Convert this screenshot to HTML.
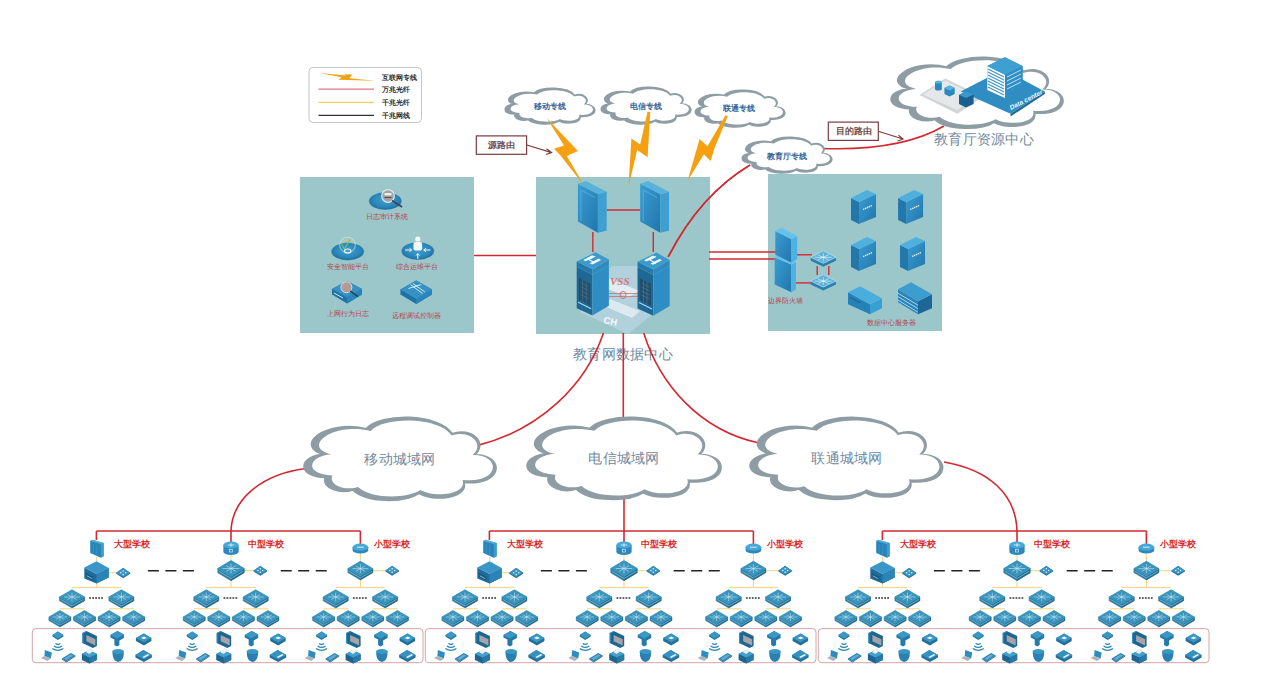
<!DOCTYPE html>
<html><head><meta charset="utf-8">
<style>
html,body{margin:0;padding:0;background:#fff;width:1262px;height:699px;overflow:hidden}
svg{display:block;font-family:"Liberation Sans",sans-serif}
.ct{fill:#6f88a0;font-size:14px;letter-spacing:.3px}
.lt{fill:#34649a;font-size:8.3px;font-weight:bold}
.rl{fill:#b9424d;font-size:6.5px}
.sch{fill:#d62828;font-size:8.6px;font-weight:bold}
.lg{fill:#2a2a2a;font-size:6.6px;font-weight:bold}
</style></head><body>
<svg width="1262" height="699" viewBox="0 0 1262 699">

<defs>
<linearGradient id="gTop" x1="0" y1="0" x2="0" y2="1"><stop offset="0" stop-color="#62bde6"/><stop offset="1" stop-color="#3d9fd0"/></linearGradient>
<linearGradient id="gFront" x1="0" y1="0" x2="1" y2="1"><stop offset="0" stop-color="#3a9dd2"/><stop offset="1" stop-color="#2176ac"/></linearGradient>
<g id="sw">
 <path d="M0,7 L11,13.5 L22,7 L22,10.5 L11,17 L0,10.5Z" fill="#2b78a0" stroke="#2b78a0" stroke-width=".5" stroke-linejoin="round"/>
 <path d="M11,13.5 L22,7 L22,10.5 L11,17Z" fill="#236a90"/>
 <path d="M0,7 L11,0.5 L22,7 L11,13.5Z" fill="#3a93bb" stroke="#3a93bb" stroke-width=".8" stroke-linejoin="round"/>
 <path d="M0.8,9.2 L11,15.2 L21.2,9.2" fill="none" stroke="#8ccbe6" stroke-width=".6"/>
 <g stroke="#c9e9f6" stroke-width=".55" fill="none" opacity=".95">
  <path d="M4,7 H18 M11,3 V11 M7,4.6 L15,9.4 M15,4.6 L7,9.4"/>
 </g>
</g>
<g id="dev">
 <path d="M0,5 L7,0 L14,5 L14,6 L7,10.5 L0,6Z" fill="#236f9c"/>
 <path d="M0,5 L7,0.5 L14,5 L7,9.2Z" fill="#3a94c0"/>
 <g fill="#dff3fb"><circle cx="4.5" cy="5" r=".8"/><circle cx="7" cy="3.2" r=".8"/><circle cx="9.5" cy="5" r=".8"/><circle cx="7" cy="6.8" r=".8"/></g>
</g>
<g id="fwS">
 <path d="M0,1.2 L2.4,0 L13.4,3.2 L13.4,16.5 L10.6,18.1 L0,13.4Z" fill="#2a84b8"/>
 <path d="M10.6,4.4 L13.4,3.2 L13.4,16.5 L10.6,18.1Z" fill="#3c9ccc"/>
 <path d="M0,1.2 L2.4,0 L13.4,3.2 L10.6,4.4Z" fill="#55afd8"/>
 <path d="M3,4.5 V14.2 M6.5,5.5 V15.7" stroke="#3d9ccf" stroke-width=".6"/>
</g>
<g id="chassis">
 <path d="M0,6.3 L12.2,12.7 L24.4,6.7 L24.4,16.2 L12.2,22.1 L0,17.3Z" fill="#1d6c9c"/>
 <path d="M12.2,12.7 L24.4,6.7 L24.4,16.2 L12.2,22.1Z" fill="#2a84b6"/>
 <path d="M0,6.3 L12.2,0 L24.4,6.7 L12.2,12.7Z" fill="#3996c6"/>
 <path d="M1.5,11.5 L9,15.5 V19.5 L1.5,15.5Z" fill="#16557d"/>
 <path d="M2.5,14.5 L8,17.4" stroke="#bfe2f3" stroke-width=".7"/>
</g>
<g id="rtM">
 <path d="M0,3.6 V10 A7.65,3.6 0 0 0 15.3,10 V3.6Z" fill="#2a88bd"/>
 <ellipse cx="7.65" cy="3.6" rx="7.65" ry="3.6" fill="#47a8d8"/>
 <path d="M4.5,3.6 H10.8 M7.65,1.8 V5.4" stroke="#e6f6fc" stroke-width=".8"/>
 <rect x="6.2" y="8" width="2.9" height="2.6" fill="none" stroke="#e6f6fc" stroke-width=".6"/>
</g>
<g id="rtS">
 <path d="M0,3.6 V6.4 A7.85,3.6 0 0 0 15.7,6.4 V3.6Z" fill="#2a88bd"/>
 <ellipse cx="7.85" cy="3.6" rx="7.85" ry="3.6" fill="#47a8d8"/>
 <path d="M4.5,3.6 H11.2" stroke="#e6f6fc" stroke-width=".9"/>
</g>
<g id="i_ap"><path d="M0,4 L5.5,0.5 L11,4 L11,5.5 L5.5,9 L0,5.5Z" fill="#2678a5"/><path d="M0,4 L5.5,0.5 L11,4 L5.5,7.5Z" fill="#3b98c4"/></g>
<g id="i_wave" fill="none" stroke="#2a82b4" stroke-width="1.3"><path d="M3,1.5 Q5.5,3.3 8,1.5"/><path d="M1.5,4 Q5.5,6.8 9.5,4"/><path d="M0,6.5 Q5.5,10.2 11,6.5"/></g>
<g id="i_mon"><path d="M0,2 L4,0 L14.5,5 V15 L10.5,17 L0,12Z" fill="#1d6690"/><path d="M4,4 L13,8.3 V14.5 L4,10.2Z" fill="#a7a3aa"/><path d="M0,2 L4,0 L5,0.5 L1,2.5 V12.5 L0,12Z" fill="#3592c4"/></g>
<g id="i_cam"><path d="M0,4 L7,0 L13.5,3.5 L13.5,7 L9,9.5 V14 L6.5,15.5 L4,14 V8.5 L0,6.5Z" fill="#2679a8"/><path d="M0,4 L7,0 L13.5,3.5 L6.5,7.5Z" fill="#3b98c4"/></g>
<g id="i_box"><path d="M0,5 L8,0.5 L15.5,5 V8 L8,12.5 L0,8Z" fill="#226f9c"/><path d="M0,5 L8,0.5 L15.5,5 L8,9.5Z" fill="#3a96c2"/><path d="M5,5 L8,3.5 L11,5 L8,6.2Z" fill="#e8f6fc"/></g>
<g id="i_lap"><path d="M4,0 L11,2.5 L10,8.5 L3.5,6Z" fill="#2f8bbd"/><path d="M0,8 L3.5,6 L10,8.5 L6.5,11Z" fill="#aab4bc"/></g>
<g id="i_ph"><path d="M0,5.5 L9,0 L13.5,2.5 L4.5,8.5Z" fill="#287fb0"/><path d="M0,5.5 L4.5,8.5 V9.5 L0,6.5Z" fill="#1f6e9f"/><path d="M4.5,8.5 L13.5,2.5 V3.5 L4.5,9.5Z" fill="#21668f"/><path d="M2,5.5 L9,1.2 L11.5,2.6 L4.5,7.2Z" fill="#5aaed8"/></g>
<g id="i_prn"><path d="M0,6 L7.5,2 L15,6 V12 L7.5,15.5 L0,12Z" fill="#1c6590"/><path d="M7.5,9.5 L15,6 V12 L7.5,15.5Z" fill="#2679a8"/><path d="M0,6 L7.5,2 L15,6 L7.5,9.5Z" fill="#45a0cc"/><path d="M4,4 L8.5,0 L12,2.5 L7.5,6Z" fill="#e8f2f6"/></g>
<g id="i_bkt"><path d="M0,2.5 Q0,12.5 5.75,13 Q11.5,12.5 11.5,2.5Z" fill="#2a80b0"/><ellipse cx="5.75" cy="2.5" rx="5.75" ry="2.5" fill="#3b98c4"/></g>
<g id="i_pd"><path d="M0,5 L8,0 L16.5,5 V7.5 L8.5,12 L0,7.5Z" fill="#226f9c"/><path d="M0,5 L8,0 L16.5,5 L8.5,9.5Z" fill="#3591c0"/><path d="M7,7 L12.5,4 L14,5 L8.5,8Z" fill="#e8f6fc"/></g>
</defs>
<rect x="300" y="177" width="174" height="156" fill="#9cc7ca"/>
<rect x="536" y="177" width="174" height="157" fill="#9cc7ca"/>
<rect x="768" y="174" width="174" height="157" fill="#9cc7ca"/>
<rect x="309" y="67.5" width="112.5" height="55" rx="4" fill="#fff" stroke="#c4c4c4" stroke-width="1"/>
<text class="ct" x="623" y="359" text-anchor="middle">教育网数据中心</text>
<path d="M474,255.5 H536" fill="none" stroke="#d42830" stroke-width="1.6"/>
<path d="M709,252 H776" fill="none" stroke="#d42830" stroke-width="1.6"/>
<path d="M709,259 H776" fill="none" stroke="#d42830" stroke-width="1.6"/>
<path d="M750,165 Q700,195 668,257" fill="none" stroke="#d42830" stroke-width="1.6"/>
<path d="M603.4,333 C586,385 540,430 477,445.6" fill="none" stroke="#d42830" stroke-width="1.6"/>
<path d="M623.3,333 V418" fill="none" stroke="#d42830" stroke-width="1.6"/>
<path d="M643.7,333 C660,385 700,430 758,442.7" fill="none" stroke="#d42830" stroke-width="1.6"/>
<path d="M821,148.5 C862,150 908,147 944,126" fill="none" stroke="#d42830" stroke-width="1.6"/>
<path d="M304,468.7 C260,475 232,500 231,531" fill="none" stroke="#d42830" stroke-width="1.6"/>
<path d="M624,498 V531" fill="none" stroke="#d42830" stroke-width="1.6"/>
<path d="M944,462 C990,470 1016,495 1017,531" fill="none" stroke="#d42830" stroke-width="1.6"/>
<path d="M96.4,531 H360.4" fill="none" stroke="#d42830" stroke-width="1.6"/>
<path d="M96.4,531 V540" fill="none" stroke="#d42830" stroke-width="1.6"/>
<path d="M231.0,531 V542" fill="none" stroke="#d42830" stroke-width="1.6"/>
<path d="M360.4,531 V544" fill="none" stroke="#d42830" stroke-width="1.6"/>
<path d="M489.4,531 H753.4" fill="none" stroke="#d42830" stroke-width="1.6"/>
<path d="M489.4,531 V540" fill="none" stroke="#d42830" stroke-width="1.6"/>
<path d="M624.0,531 V542" fill="none" stroke="#d42830" stroke-width="1.6"/>
<path d="M753.4,531 V544" fill="none" stroke="#d42830" stroke-width="1.6"/>
<path d="M882.4,531 H1146.4" fill="none" stroke="#d42830" stroke-width="1.6"/>
<path d="M882.4,531 V540" fill="none" stroke="#d42830" stroke-width="1.6"/>
<path d="M1017.0,531 V542" fill="none" stroke="#d42830" stroke-width="1.6"/>
<path d="M1146.4,531 V544" fill="none" stroke="#d42830" stroke-width="1.6"/>
<path d="M514.7,104.2 C499.6,100.9 514.9,88.9 534.1,93.1 C541.0,86.3 568.0,86.3 574.4,95.3 C583.3,92.3 591.4,99.1 584.9,104.5 C599.0,104.3 599.0,118.0 579.9,116.3 C582.4,123.1 565.8,124.9 558.9,121.0 C552.2,125.3 534.2,125.3 527.9,119.6 C522.1,121.4 513.1,118.9 515.1,114.1 C501.4,113.7 502.3,105.1 514.7,104.2Z" fill="#8e9da4" stroke="#8e9da4" stroke-width="1.37"/>
<path d="M519.4,104.2 C505.5,101.3 519.5,90.8 537.1,94.5 C543.5,88.5 568.2,88.5 574.1,96.5 C582.2,93.8 589.7,99.8 583.7,104.5 C596.7,104.3 596.7,116.3 579.1,114.8 C581.4,120.8 566.1,122.3 559.9,119.0 C553.8,122.7 537.3,122.7 531.5,117.7 C526.1,119.3 517.9,117.0 519.7,112.9 C507.2,112.5 508.0,105.0 519.4,104.2Z" fill="#fff"/>
<path d="M610.7,103.6 C595.6,100.2 610.9,87.9 630.1,92.3 C637.0,85.2 664.0,85.2 670.4,94.5 C679.3,91.4 687.4,98.5 680.9,104.0 C695.0,103.7 695.0,117.8 675.9,116.1 C678.4,123.1 661.8,124.9 654.9,121.0 C648.2,125.3 630.2,125.3 623.9,119.5 C618.1,121.4 609.1,118.7 611.1,113.8 C597.4,113.4 598.3,104.6 610.7,103.6Z" fill="#8e9da4" stroke="#8e9da4" stroke-width="1.37"/>
<path d="M615.4,103.6 C601.5,100.7 615.5,89.8 633.1,93.7 C639.5,87.5 664.2,87.5 670.1,95.7 C678.2,92.9 685.7,99.1 679.7,104.0 C692.7,103.7 692.7,116.1 675.1,114.6 C677.4,120.8 662.1,122.3 655.9,118.9 C649.8,122.7 633.3,122.7 627.5,117.6 C622.1,119.2 613.9,116.9 615.7,112.6 C603.2,112.3 604.0,104.5 615.4,103.6Z" fill="#fff"/>
<path d="M704.7,106.6 C689.6,103.2 704.9,90.9 724.1,95.3 C731.0,88.2 758.0,88.2 764.4,97.5 C773.3,94.4 781.4,101.5 774.9,107.0 C789.0,106.7 789.0,120.8 769.9,119.1 C772.4,126.1 755.8,127.9 748.9,124.0 C742.2,128.3 724.2,128.3 717.9,122.5 C712.1,124.4 703.1,121.7 705.1,116.8 C691.4,116.4 692.3,107.6 704.7,106.6Z" fill="#8e9da4" stroke="#8e9da4" stroke-width="1.37"/>
<path d="M709.4,106.6 C695.5,103.7 709.5,92.8 727.1,96.7 C733.5,90.5 758.2,90.5 764.1,98.7 C772.2,95.9 779.7,102.1 773.7,107.0 C786.7,106.7 786.7,119.1 769.1,117.6 C771.4,123.8 756.1,125.3 749.9,121.9 C743.8,125.7 727.3,125.7 721.5,120.6 C716.1,122.2 707.9,119.9 709.7,115.6 C697.2,115.3 698.0,107.5 709.4,106.6Z" fill="#fff"/>
<path d="M751.7,153.2 C736.6,149.9 751.9,137.9 771.1,142.1 C778.0,135.3 805.0,135.3 811.4,144.3 C820.3,141.3 828.4,148.1 821.9,153.5 C836.0,153.3 836.0,167.0 816.9,165.3 C819.4,172.1 802.8,173.9 795.9,170.0 C789.2,174.3 771.2,174.3 764.9,168.6 C759.1,170.4 750.1,167.9 752.1,163.1 C738.4,162.7 739.3,154.1 751.7,153.2Z" fill="#8e9da4" stroke="#8e9da4" stroke-width="1.37"/>
<path d="M756.4,153.2 C742.5,150.3 756.5,139.8 774.1,143.5 C780.5,137.5 805.2,137.5 811.1,145.5 C819.2,142.8 826.7,148.8 820.7,153.5 C833.7,153.3 833.7,165.3 816.1,163.8 C818.4,169.8 803.1,171.3 796.9,168.0 C790.8,171.7 774.3,171.7 768.5,166.7 C763.1,168.3 754.9,166.0 756.7,161.9 C744.2,161.5 745.0,154.0 756.4,153.2Z" fill="#fff"/>
<path d="M909.6,88.9 C880.7,82.4 909.9,58.7 946.6,67.1 C959.8,53.6 1011.4,53.6 1023.7,71.5 C1040.6,65.5 1056.1,79.0 1043.7,89.6 C1070.7,89.1 1070.7,116.2 1034.1,112.8 C1038.9,126.3 1007.1,129.7 994.0,122.2 C981.3,130.5 946.9,130.5 934.8,119.3 C923.7,122.9 906.5,117.9 910.3,108.5 C884.1,107.7 885.8,90.8 909.6,88.9Z" fill="#8e9da4" stroke="#8e9da4" stroke-width="1.89"/>
<path d="M916.0,88.9 C888.9,83.0 916.3,61.4 950.8,69.1 C963.2,56.7 1011.7,56.7 1023.2,73.0 C1039.2,67.5 1053.7,79.9 1042.1,89.6 C1067.4,89.1 1067.4,113.8 1033.0,110.7 C1037.5,123.1 1007.6,126.1 995.4,119.3 C983.4,126.9 951.1,126.9 939.7,116.7 C929.3,120.0 913.1,115.3 916.7,106.8 C892.1,106.1 893.7,90.7 916.0,88.9Z" fill="#fff"/>
<path d="M324.7,454.3 C292.5,446.6 325.1,419.0 366.1,428.9 C380.8,413.0 438.4,413.0 452.1,433.9 C471.0,426.9 488.3,442.7 474.5,455.1 C504.6,454.5 504.6,486.2 463.7,482.2 C469.1,498.0 433.6,502.0 419.0,493.2 C404.8,503.0 366.4,503.0 352.9,489.8 C340.5,494.1 321.3,488.1 325.5,477.2 C296.3,476.3 298.2,456.5 324.7,454.3Z" fill="#8e9da4" stroke="#8e9da4" stroke-width="1.99"/>
<path d="M331.5,454.3 C301.1,447.3 331.9,421.8 370.5,430.9 C384.4,416.4 438.7,416.4 451.6,435.5 C469.5,429.1 485.8,443.6 472.7,455.1 C501.2,454.6 501.2,483.7 462.6,480.0 C467.7,494.6 434.2,498.2 420.4,490.1 C407.0,499.1 370.8,499.1 358.1,487.0 C346.4,491.0 328.3,485.5 332.3,475.4 C304.7,474.6 306.5,456.4 331.5,454.3Z" fill="#fff"/>
<path d="M548.0,453.8 C515.4,446.3 548.3,419.0 589.8,428.7 C604.6,413.1 662.8,413.1 676.7,433.7 C695.8,426.8 713.2,442.4 699.3,454.7 C729.7,454.1 729.7,485.3 688.4,481.4 C693.8,497.0 658.0,501.0 643.2,492.3 C628.9,501.9 590.0,501.9 576.4,488.9 C563.9,493.1 544.5,487.3 548.7,476.4 C519.2,475.6 521.2,456.0 548.0,453.8Z" fill="#8e9da4" stroke="#8e9da4" stroke-width="2.01"/>
<path d="M554.8,453.8 C524.0,446.9 555.1,421.8 594.2,430.8 C608.2,416.4 663.1,416.4 676.2,435.4 C694.2,429.0 710.7,443.3 697.5,454.6 C726.2,454.1 726.2,482.8 687.3,479.2 C692.4,493.6 658.5,497.2 644.6,489.2 C631.1,498.1 594.5,498.1 581.6,486.1 C569.8,490.0 551.5,484.6 555.5,474.7 C527.7,473.9 529.5,455.9 554.8,453.8Z" fill="#fff"/>
<path d="M770.8,453.8 C738.5,446.3 771.2,419.0 812.3,428.7 C827.0,413.1 884.8,413.1 898.5,433.7 C917.5,426.8 934.8,442.4 920.9,454.7 C951.2,454.1 951.2,485.3 910.2,481.4 C915.5,497.0 879.9,501.0 865.3,492.3 C851.1,501.9 812.6,501.9 799.0,488.9 C786.6,493.1 767.3,487.3 771.6,476.4 C742.3,475.6 744.2,456.0 770.8,453.8Z" fill="#8e9da4" stroke="#8e9da4" stroke-width="2.00"/>
<path d="M777.6,453.8 C747.1,446.9 778.0,421.8 816.7,430.8 C830.6,416.4 885.0,416.4 898.0,435.3 C915.9,429.0 932.2,443.3 919.2,454.6 C947.7,454.1 947.7,482.8 909.0,479.2 C914.1,493.6 880.5,497.2 866.7,489.2 C853.3,498.1 817.0,498.1 804.2,486.2 C792.5,490.0 774.3,484.6 778.3,474.7 C750.7,473.9 752.5,455.9 777.6,453.8Z" fill="#fff"/>
<path d="M319.5,73 L346,75.5 L344.5,74.2 L352,74.5 L349.5,78.2 L374.5,80.8 L338.5,79.8 L341.5,77.2Z" fill="#f5a011"/>
<path d="M318.5,89.2 H374" stroke="#d97b86" stroke-width="1.2"/>
<path d="M318.5,102.3 H374" stroke="#f0c14a" stroke-width="1"/>
<path d="M318.5,115.4 H374" stroke="#333" stroke-width="1.1"/>
<text class="lg" x="382.4" y="79.6">互联网专线</text>
<text class="lg" x="382.4" y="92">万兆光纤</text>
<text class="lg" x="382.4" y="104.8">千兆光纤</text>
<text class="lg" x="382.4" y="118.2">千兆网线</text>
<rect x="476.3" y="135.9" width="50.3" height="18.4" fill="#fff" stroke="#7b3c40" stroke-width="1.2"/>
<text x="501" y="148" text-anchor="middle" style="fill:#6e4e50;font-size:8.9px;font-weight:bold">源路由</text>
<path d="M527,145 L551.5,152.6 M546.5,148.8 L551.5,152.6 L546,154.5" fill="none" stroke="#7b3c40" stroke-width="1.2"/>
<rect x="828.3" y="122.1" width="50" height="18.3" fill="#fff" stroke="#7b3c40" stroke-width="1.2"/>
<text x="853.5" y="134.3" text-anchor="middle" style="fill:#6e4e50;font-size:8.9px;font-weight:bold">目的路由</text>
<path d="M879,131.5 L903,139 M898.5,135.2 L903,139 L897.5,141" fill="none" stroke="#7b3c40" stroke-width="1.2"/>
<defs>
<g id="slab">
 <path d="M0,2.8 L20,13.1 L20,51.7 L0,40.5Z" fill="url(#gFront)"/>
 <path d="M20,13.1 L28.8,10.7 L28.8,49.8 L20,51.7Z" fill="#3f9fd0"/>
 <path d="M0,2.8 L7.9,0 L28.8,10.7 L20,13.1Z" fill="#58b2dc"/>
 <path d="M3,9 L17,16.5 M3,9 V40" stroke="#5bb8e6" stroke-width=".7" fill="none"/>
</g>
<g id="core">
 <path d="M0,15 L15.8,23 L15.8,63.8 L0,56.5Z" fill="#1f6896"/>
 <path d="M15.8,23 L32.2,13.5 L32.2,54 L15.8,63.8Z" fill="#2e8ec4"/>
 <path d="M2.2,26 L13.6,32 L13.6,54 L2.2,48Z" fill="#22506e"/>
 <path d="M4,31 L12,35 M4,35 L12,39 M4,39 L12,43 M4,43 L12,47 M6,28 V50 M9.5,30 V52" stroke="#5a7d93" stroke-width=".5"/>
 <path d="M1.5,50.5 L14.5,57" stroke="#a9d5ec" stroke-width="1.1"/>
 <path d="M0,9.7 L15.8,17.5 L15.8,23 L0,15Z" fill="#2479ab"/>
 <path d="M15.8,17.5 L32.2,7.9 L32.2,13.5 L15.8,23Z" fill="#2f8bbd"/>
 <path d="M0,9.7 L18.8,0.6 L32.2,7.9 L15.8,17.5Z" fill="#3d9acb"/>
 <path d="M6.5,8.2 L15.5,3.6 L18,4.9 L9,9.5Z M13,11.5 L22,6.9 L24.5,8.2 L15.5,12.8Z" fill="#eef8fd"/>
 <path d="M12,7.8 L18.5,4.5 M12,7.8 L18.5,11.2" stroke="#eef8fd" stroke-width="1.1"/>
</g>
<g id="srv">
 <path d="M0,8 L8,12 L8,34 L0,30Z" fill="#2377ab"/>
 <path d="M8,12 L25,4 L25,27 L8,34Z" fill="url(#gFront)"/>
 <path d="M0,8 L16,0 L25,4 L8,12Z" fill="#4fb0de"/>
 <path d="M12,19.5 L21,15.5" stroke="#e6f4fb" stroke-width="1.3" stroke-dasharray="1.5,.6"/>
</g>
<g id="rack1">
 <path d="M0,6 L22,18 L22,28 L0,18Z" fill="#2582b8"/>
 <path d="M22,18 L34,12 L34,22 L22,28Z" fill="#3aa0d4"/>
 <path d="M0,6 L12,0 L34,12 L22,18Z" fill="#4aaedd"/>
 <path d="M2,11 L12,16.5" stroke="#1a5f8a" stroke-width="1"/>
</g>
<g id="rack2">
 <path d="M0,7 L20,19 L20,32 L0,20Z" fill="#2a84b8"/>
 <path d="M20,19 L34,12 L34,26 L20,32Z" fill="#1d6796"/>
 <path d="M0,7 L13,0 L34,12 L20,19Z" fill="#3d9dd0"/>
 <path d="M0,11 L20,23 M0,14.5 L20,26.5 M0,18 L20,30" stroke="#a9d6ee" stroke-width="1"/>
</g>
<g id="sw2">
 <path d="M0,7 L12.6,13 L25.2,7 L25.2,10.5 L12.6,16.5 L0,10.5Z" fill="#2a7fae"/>
 <path d="M0,7 L12.6,0.5 L25.2,7 L12.6,13Z" fill="#5db0d6" stroke="#b5e0f2" stroke-width=".7"/>
 <g stroke="#eef9fd" stroke-width=".6" fill="none"><path d="M4,7 H21 M12.6,3 V11 M7,4.5 L18,9.5 M18,4.5 L7,9.5"/></g>
</g>
<radialGradient id="gDisc" cx=".5" cy=".45" r=".55"><stop offset="0" stop-color="#3fa0d0"/><stop offset=".7" stop-color="#2a86ba"/><stop offset="1" stop-color="#1c6797"/></radialGradient>
<g id="disc">
 <ellipse cx="0" cy="0" rx="16.5" ry="9" fill="url(#gDisc)"/>
 <ellipse cx="0" cy="0" rx="16.5" ry="9" fill="none" stroke="#a9d3e0" stroke-width=".6" opacity=".6"/>
</g>
</defs>
<path d="M612,266 L642,266 L670,300 L628,334 L580,312 L596,282Z" fill="#b8d6e2" opacity=".75"/>
<path d="M606,277 L640,291 L628,297 L598,285Z" fill="#eef4f6" opacity=".8"/>
<path d="M610,299 L640,311 L632,318 L604,306Z" fill="#eef4f6" opacity=".7"/>
<text x="610" y="285" style="fill:#d9767a;font-size:11px;font-family:Liberation Serif,serif;font-weight:bold;font-style:italic">VSS</text>
<text x="603" y="323" transform="rotate(12 603 323)" style="fill:#f4f8fa;font-size:9.5px;font-weight:bold">CH</text>
<path d="M606.7,210 H640.2" fill="none" stroke="#d42830" stroke-width="1.4"/>
<path d="M592.8,232 V252" fill="none" stroke="#d42830" stroke-width="1.4"/>
<path d="M653.3,232 V252" fill="none" stroke="#d42830" stroke-width="1.4"/>
<path d="M609,293.5 H637.5 M609,296.5 H637.5" stroke="#c96d72" stroke-width=".8"/>
<ellipse cx="623" cy="295" rx="3" ry="3.6" fill="none" stroke="#c96d72" stroke-width=".9"/>
<use href="#slab" transform="translate(577.90,181.00) scale(1.000,1.000)"/>
<use href="#slab" transform="translate(640.20,181.00) scale(1.000,1.000)"/>
<use href="#core" transform="translate(576.70,251.70) scale(1.000,1.000)"/>
<use href="#core" transform="translate(637.50,252.00) scale(1.000,1.000)"/>
<path d="M750,165 Q700,195 669,256" fill="none" stroke="#d42830" stroke-width="1.3"/>
<path d="M797,254.8 H812" fill="none" stroke="#d42830" stroke-width="1.4"/>
<path d="M795.9,282.9 H812" fill="none" stroke="#d42830" stroke-width="1.4"/>
<path d="M817.2,266 V275" fill="none" stroke="#d42830" stroke-width="1.4"/>
<path d="M828.8,266 V275" fill="none" stroke="#d42830" stroke-width="1.4"/>
<g transform="translate(774.7,254.1)"><path d="M0,3.3 L16.7,10.4 L16.7,38.1 L0,30.3Z" fill="url(#gFront)"/><path d="M16.7,10.4 L21.2,7.8 L21.2,35.5 L16.7,38.1Z" fill="#4db2e2"/><path d="M0,3.3 L6.4,0 L21.2,7.8 L16.7,10.4Z" fill="#66c0ea"/></g>
<g transform="translate(775.3,227.7)"><path d="M0,3.3 L16.1,11.6 L16.1,34.8 L0,27.1Z" fill="url(#gFront)"/><path d="M16.1,11.6 L21.9,8.4 L21.9,31.6 L16.1,34.8Z" fill="#4db2e2"/><path d="M0,3.3 L6.5,0 L21.9,8.4 L16.1,11.6Z" fill="#66c0ea"/></g>
<use href="#sw2" transform="translate(810.70,250.30) scale(1.000,1.000)"/>
<use href="#sw2" transform="translate(810.70,274.10) scale(1.000,1.000)"/>
<use href="#srv" transform="translate(851.00,190.00) scale(1.000,1.000)"/>
<use href="#srv" transform="translate(898.10,190.00) scale(1.000,1.000)"/>
<use href="#srv" transform="translate(851.00,237.10) scale(1.000,1.000)"/>
<use href="#srv" transform="translate(900.00,237.00) scale(1.000,1.000)"/>
<use href="#rack1" transform="translate(848.00,286.20) scale(1.000,1.000)"/>
<use href="#rack2" transform="translate(898.00,282.20) scale(1.000,1.000)"/>
<text class="rl" x="785.3" y="302.8" text-anchor="middle">边界防火墙</text>
<text class="rl" x="891.8" y="324.5" text-anchor="middle">数据中心服务器</text>
<use href="#disc" transform="translate(385.30,201.00) scale(1.000,1.000)"/>
<use href="#disc" transform="translate(347.70,251.50) scale(1.000,1.000)"/>
<use href="#disc" transform="translate(417.80,251.00) scale(1.000,1.000)"/>
<circle cx="388" cy="196" r="6.3" fill="#9ea3a8" stroke="#dfe6ea" stroke-width="1.2"/><rect x="384.5" y="193" width="7" height="2.4" fill="#eee"/><path d="M384.5,197.5 H391.5" stroke="#6a4a4a" stroke-width="1.2"/><path d="M392,200.5 L402,207" stroke="#3a4a55" stroke-width="1.8"/>
<circle cx="347.5" cy="245" r="7.8" fill="none" stroke="#d9eae8" stroke-width=".8" opacity=".8"/><path d="M342,243.5 A6,6 0 0 1 353,243.5" fill="none" stroke="#e6c36a" stroke-width="1"/><path d="M341.5,244 L344.5,249 L350,239.5" fill="none" stroke="#7cc36a" stroke-width="1.1"/><ellipse cx="347.7" cy="251" rx="3.2" ry="2" fill="none" stroke="#f4f8fa" stroke-width="1.1"/>
<rect x="413.5" y="242" width="8.6" height="8.5" rx="2" fill="#f4f8fa"/><circle cx="417.8" cy="239" r="2.6" fill="#f4f8fa"/><path d="M405,250 h6 M424.5,250 h6 M417.8,259 v-5" stroke="#f4f8fa" stroke-width="1.1"/><path d="M409.5,248.3 L411.8,250 L409.5,251.7 M426,248.3 L423.7,250 L426,251.7 M416.1,255.5 L417.8,253.5 L419.5,255.5" fill="none" stroke="#f4f8fa" stroke-width="1"/>
<g transform="translate(332,280)"><path d="M0,9 L15,1 L30,9 L30,14.5 L15,23.4 L0,14.5Z" fill="#1f72a6"/><path d="M15,17.5 L30,9 L30,14.5 L15,23.4Z" fill="#2a86ba"/><path d="M0,9 L15,1 L30,9 L15,17.5Z" fill="#3592c4"/><path d="M2,13 L11,18" stroke="#cfe8f4" stroke-width="1"/></g>
<circle cx="346.4" cy="287.3" r="5.5" fill="#b59a98" stroke="#d9dfe2" stroke-width="1"/><path d="M350,291 L358,296.5" stroke="#333" stroke-width="1.3"/>
<g transform="translate(400.4,279.5)"><path d="M0,10 L15.8,1 L31.6,10 L31.6,15 L15.8,24.5 L0,15Z" fill="#1f72a6"/><path d="M15.8,19.5 L31.6,10 L31.6,15 L15.8,24.5Z" fill="#2a86ba"/><path d="M0,10 L15.8,1 L31.6,10 L15.8,19.5Z" fill="#3592c4"/><path d="M10,5 L22,14 M12.5,4 L24.5,12.5 M8,9 L21,5" stroke="#e8f6fc" stroke-width=".9"/></g>
<text class="rl" x="387.3" y="218.6" text-anchor="middle">日志审计系统</text>
<text class="rl" x="347.5" y="269.2" text-anchor="middle">安全智能平台</text>
<text class="rl" x="416.8" y="269.2" text-anchor="middle">综合运维平台</text>
<text class="rl" x="347.5" y="315.9" text-anchor="middle">上网行为日志</text>
<text class="rl" x="416.8" y="317.9" text-anchor="middle">远程调试控制器</text>
<path d="M919.5,94.9 L945.2,78.6 L983,96.7 L957.3,113.8Z" fill="#cfd5d8"/><path d="M923,94.5 L945.2,80.6 L978,96.5 L957,110Z" fill="#e4e8ea"/>
<path d="M960.7,91.5 L1003.6,69.2 L1044.8,91.5 L1010.5,113.8Z" fill="#2f8dc2"/><path d="M1010.5,113.8 L1044.8,91.5 L1044.8,94 L1010.5,116.5Z" fill="#1d6a99"/>
<path d="M987.3,66 L1005,57.2 L1022.5,66 V90 L1005,98 L987.3,90Z" fill="#2a86bb"/><path d="M987.3,66 L1005,74.8 V98 L987.3,90Z" fill="#fff"/><path d="M1005,74.8 L1022.5,66 V90 L1005,98Z" fill="#2f8fc4"/><path d="M987.3,66 L1005,57.2 L1022.5,66 L1005,74.8Z" fill="#3e9fd2"/>
<path d="M988,69 L1004,77 M988,72 L1004,80 M988,75 L1004,83 M988,78 L1004,86 M988,81 L1004,89 M988,84 L1004,92 M988,87 L1004,95" stroke="#3a95c8" stroke-width="1.1"/>
<path d="M1007,77 L1021,70 M1007,81 L1021,74 M1007,85 L1021,78 M1007,89 L1021,82" stroke="#e6f4fb" stroke-width=".8"/>
<path d="M959,95 L967,91 L973.6,94.5 V104 L966,107.5 L959,104Z" fill="#1b5f8e"/><path d="M959,95 L967,91 L973.6,94.5 L966,98Z" fill="#3a98cc"/>
<path d="M935,82 V89 A3.4,1.6 0 0 0 941.8,89 V82Z" fill="#2a88bd"/><ellipse cx="938.4" cy="82" rx="3.4" ry="1.6" fill="#56b3e0"/>
<path d="M944.4,88 L949.5,85.5 L954.7,88 V94 L949.5,96.6 L944.4,94Z" fill="#2a88bd"/><path d="M944.4,88 L949.5,85.5 L954.7,88 L949.5,90.5Z" fill="#56b3e0"/>
<text x="1011" y="110" transform="rotate(-27 1011 110)" style="fill:#eaf6fc;font-size:6.6px;font-weight:bold;font-style:italic">Data center</text>
<path d="M546.7,118.1 L577.9,151.1 L566.8,156.1 L584.6,186.2 L560.1,155 L554,148.8 L564,145.5Z" fill="#f5a011"/>
<path d="M647.5,111.7 L650.3,112 L647.6,157.3 L637.2,150 L628.5,186.5 L631.4,138.4 L640.2,144.5Z" fill="#f5a011"/>
<path d="M725.5,115.3 L727.8,115.9 L714.8,147.6 L710.6,160.9 L703.9,154.2 L687.5,181 L699.6,139 L707.5,146.3Z" fill="#f5a011"/>
<rect x="32.3" y="628.6" width="390.7" height="34.1" rx="3.5" fill="none" stroke="#d4a6a6" stroke-width="1"/>
<path d="M96.7,557 V561 M96.7,583 V587.4" fill="none" stroke="#f1d47e" stroke-width="1"/>
<path d="M108.7,572.7 H116.7" fill="none" stroke="#f1d47e" stroke-width="1"/>
<use href="#fwS" transform="translate(90.20,539.70) scale(1.000,1.000)"/>
<use href="#chassis" transform="translate(84.30,561.30) scale(1.000,1.000)"/>
<use href="#dev" transform="translate(116.20,567.80) scale(1.000,1.000)"/>
<path d="M72.0,587.4 H121.4" fill="none" stroke="#f1d47e" stroke-width="1"/>
<path d="M59.9,608.8 H84.5 M109.1,608.8 H133.7" fill="none" stroke="#f1d47e" stroke-width="1"/>
<use href="#sw" transform="translate(59.50,589.30) scale(1.136,1.094)"/>
<use href="#sw" transform="translate(108.90,589.30) scale(1.136,1.094)"/>
<path d="M89.2,598 H104.2" stroke="#333" stroke-width="1.3" stroke-dasharray="1.8,1.2"/>
<use href="#sw" transform="translate(48.90,610.00) scale(1.000,1.000)"/>
<use href="#sw" transform="translate(73.50,610.00) scale(1.000,1.000)"/>
<use href="#sw" transform="translate(98.10,610.00) scale(1.000,1.000)"/>
<use href="#sw" transform="translate(122.70,610.00) scale(1.000,1.000)"/>
<use href="#i_ap" transform="translate(52.40,631.00) scale(1.000,1.000)"/>
<use href="#i_wave" transform="translate(52.40,642.00) scale(1.000,1.000)"/>
<use href="#i_mon" transform="translate(82.40,631.00) scale(1.000,1.000)"/>
<use href="#i_cam" transform="translate(110.40,631.00) scale(1.000,1.000)"/>
<use href="#i_box" transform="translate(135.90,633.00) scale(1.000,1.000)"/>
<use href="#i_lap" transform="translate(40.90,650.00) scale(1.000,1.000)"/>
<use href="#i_ph" transform="translate(61.90,653.00) scale(1.000,1.000)"/>
<use href="#i_prn" transform="translate(81.90,648.00) scale(1.000,1.000)"/>
<use href="#i_bkt" transform="translate(112.40,649.00) scale(1.000,1.000)"/>
<use href="#i_pd" transform="translate(135.40,650.00) scale(1.000,1.000)"/>
<text class="sch" x="113.6" y="546.5">大型学校</text>
<path d="M231.0,555 V560 M231.0,580 V587.4" fill="none" stroke="#f1d47e" stroke-width="1"/>
<path d="M244.0,570.7 H254.0" fill="none" stroke="#f1d47e" stroke-width="1"/>
<use href="#rtM" transform="translate(223.35,541.40) scale(1.000,1.000)"/>
<use href="#sw" transform="translate(217.80,560.00) scale(1.200,1.218)"/>
<use href="#dev" transform="translate(253.60,565.70) scale(0.957,0.957)"/>
<path d="M206.3,587.4 H255.7" fill="none" stroke="#f1d47e" stroke-width="1"/>
<path d="M194.2,608.8 H218.8 M243.4,608.8 H268.0" fill="none" stroke="#f1d47e" stroke-width="1"/>
<use href="#sw" transform="translate(193.80,589.30) scale(1.136,1.094)"/>
<use href="#sw" transform="translate(243.20,589.30) scale(1.136,1.094)"/>
<path d="M223.5,598 H238.5" stroke="#333" stroke-width="1.3" stroke-dasharray="1.8,1.2"/>
<use href="#sw" transform="translate(183.20,610.00) scale(1.000,1.000)"/>
<use href="#sw" transform="translate(207.80,610.00) scale(1.000,1.000)"/>
<use href="#sw" transform="translate(232.40,610.00) scale(1.000,1.000)"/>
<use href="#sw" transform="translate(257.00,610.00) scale(1.000,1.000)"/>
<use href="#i_ap" transform="translate(186.70,631.00) scale(1.000,1.000)"/>
<use href="#i_wave" transform="translate(186.70,642.00) scale(1.000,1.000)"/>
<use href="#i_mon" transform="translate(216.70,631.00) scale(1.000,1.000)"/>
<use href="#i_cam" transform="translate(244.70,631.00) scale(1.000,1.000)"/>
<use href="#i_box" transform="translate(270.20,633.00) scale(1.000,1.000)"/>
<use href="#i_lap" transform="translate(175.20,650.00) scale(1.000,1.000)"/>
<use href="#i_ph" transform="translate(196.20,653.00) scale(1.000,1.000)"/>
<use href="#i_prn" transform="translate(216.20,648.00) scale(1.000,1.000)"/>
<use href="#i_bkt" transform="translate(246.70,649.00) scale(1.000,1.000)"/>
<use href="#i_pd" transform="translate(269.70,650.00) scale(1.000,1.000)"/>
<text class="sch" x="247.9" y="546.5">中型学校</text>
<path d="M360.4,553.6 V560.7 M360.4,580 V587.4" fill="none" stroke="#f1d47e" stroke-width="1"/>
<path d="M372.9,570.7 H385.4" fill="none" stroke="#f1d47e" stroke-width="1"/>
<use href="#rtS" transform="translate(352.55,543.60) scale(1.000,1.000)"/>
<use href="#sw" transform="translate(347.90,560.70) scale(1.136,1.135)"/>
<use href="#dev" transform="translate(385.40,565.70) scale(0.964,0.964)"/>
<path d="M335.7,587.4 H385.1" fill="none" stroke="#f1d47e" stroke-width="1"/>
<path d="M323.6,608.8 H348.2 M372.8,608.8 H397.4" fill="none" stroke="#f1d47e" stroke-width="1"/>
<use href="#sw" transform="translate(323.20,589.30) scale(1.136,1.094)"/>
<use href="#sw" transform="translate(372.60,589.30) scale(1.136,1.094)"/>
<path d="M352.9,598 H367.9" stroke="#333" stroke-width="1.3" stroke-dasharray="1.8,1.2"/>
<use href="#sw" transform="translate(312.60,610.00) scale(1.000,1.000)"/>
<use href="#sw" transform="translate(337.20,610.00) scale(1.000,1.000)"/>
<use href="#sw" transform="translate(361.80,610.00) scale(1.000,1.000)"/>
<use href="#sw" transform="translate(386.40,610.00) scale(1.000,1.000)"/>
<use href="#i_ap" transform="translate(316.10,631.00) scale(1.000,1.000)"/>
<use href="#i_wave" transform="translate(316.10,642.00) scale(1.000,1.000)"/>
<use href="#i_mon" transform="translate(346.10,631.00) scale(1.000,1.000)"/>
<use href="#i_cam" transform="translate(374.10,631.00) scale(1.000,1.000)"/>
<use href="#i_box" transform="translate(399.60,633.00) scale(1.000,1.000)"/>
<use href="#i_lap" transform="translate(304.60,650.00) scale(1.000,1.000)"/>
<use href="#i_ph" transform="translate(325.60,653.00) scale(1.000,1.000)"/>
<use href="#i_prn" transform="translate(345.60,648.00) scale(1.000,1.000)"/>
<use href="#i_bkt" transform="translate(376.10,649.00) scale(1.000,1.000)"/>
<use href="#i_pd" transform="translate(399.10,650.00) scale(1.000,1.000)"/>
<text class="sch" x="373.6" y="546.5">小型学校</text>
<path d="M147.9,570.7 H194.0 M280.7,570.7 H327.0" stroke="#222" stroke-width="1.6" stroke-dasharray="11,6.5"/>
<rect x="425.3" y="628.6" width="390.7" height="34.1" rx="3.5" fill="none" stroke="#d4a6a6" stroke-width="1"/>
<path d="M489.7,557 V561 M489.7,583 V587.4" fill="none" stroke="#f1d47e" stroke-width="1"/>
<path d="M501.7,572.7 H509.7" fill="none" stroke="#f1d47e" stroke-width="1"/>
<use href="#fwS" transform="translate(483.20,539.70) scale(1.000,1.000)"/>
<use href="#chassis" transform="translate(477.30,561.30) scale(1.000,1.000)"/>
<use href="#dev" transform="translate(509.20,567.80) scale(1.000,1.000)"/>
<path d="M465.0,587.4 H514.4" fill="none" stroke="#f1d47e" stroke-width="1"/>
<path d="M452.9,608.8 H477.5 M502.1,608.8 H526.7" fill="none" stroke="#f1d47e" stroke-width="1"/>
<use href="#sw" transform="translate(452.50,589.30) scale(1.136,1.094)"/>
<use href="#sw" transform="translate(501.90,589.30) scale(1.136,1.094)"/>
<path d="M482.2,598 H497.2" stroke="#333" stroke-width="1.3" stroke-dasharray="1.8,1.2"/>
<use href="#sw" transform="translate(441.90,610.00) scale(1.000,1.000)"/>
<use href="#sw" transform="translate(466.50,610.00) scale(1.000,1.000)"/>
<use href="#sw" transform="translate(491.10,610.00) scale(1.000,1.000)"/>
<use href="#sw" transform="translate(515.70,610.00) scale(1.000,1.000)"/>
<use href="#i_ap" transform="translate(445.40,631.00) scale(1.000,1.000)"/>
<use href="#i_wave" transform="translate(445.40,642.00) scale(1.000,1.000)"/>
<use href="#i_mon" transform="translate(475.40,631.00) scale(1.000,1.000)"/>
<use href="#i_cam" transform="translate(503.40,631.00) scale(1.000,1.000)"/>
<use href="#i_box" transform="translate(528.90,633.00) scale(1.000,1.000)"/>
<use href="#i_lap" transform="translate(433.90,650.00) scale(1.000,1.000)"/>
<use href="#i_ph" transform="translate(454.90,653.00) scale(1.000,1.000)"/>
<use href="#i_prn" transform="translate(474.90,648.00) scale(1.000,1.000)"/>
<use href="#i_bkt" transform="translate(505.40,649.00) scale(1.000,1.000)"/>
<use href="#i_pd" transform="translate(528.40,650.00) scale(1.000,1.000)"/>
<text class="sch" x="506.6" y="546.5">大型学校</text>
<path d="M624.0,555 V560 M624.0,580 V587.4" fill="none" stroke="#f1d47e" stroke-width="1"/>
<path d="M637.0,570.7 H647.0" fill="none" stroke="#f1d47e" stroke-width="1"/>
<use href="#rtM" transform="translate(616.35,541.40) scale(1.000,1.000)"/>
<use href="#sw" transform="translate(610.80,560.00) scale(1.200,1.218)"/>
<use href="#dev" transform="translate(646.60,565.70) scale(0.957,0.957)"/>
<path d="M599.3,587.4 H648.7" fill="none" stroke="#f1d47e" stroke-width="1"/>
<path d="M587.2,608.8 H611.8 M636.4,608.8 H661.0" fill="none" stroke="#f1d47e" stroke-width="1"/>
<use href="#sw" transform="translate(586.80,589.30) scale(1.136,1.094)"/>
<use href="#sw" transform="translate(636.20,589.30) scale(1.136,1.094)"/>
<path d="M616.5,598 H631.5" stroke="#333" stroke-width="1.3" stroke-dasharray="1.8,1.2"/>
<use href="#sw" transform="translate(576.20,610.00) scale(1.000,1.000)"/>
<use href="#sw" transform="translate(600.80,610.00) scale(1.000,1.000)"/>
<use href="#sw" transform="translate(625.40,610.00) scale(1.000,1.000)"/>
<use href="#sw" transform="translate(650.00,610.00) scale(1.000,1.000)"/>
<use href="#i_ap" transform="translate(579.70,631.00) scale(1.000,1.000)"/>
<use href="#i_wave" transform="translate(579.70,642.00) scale(1.000,1.000)"/>
<use href="#i_mon" transform="translate(609.70,631.00) scale(1.000,1.000)"/>
<use href="#i_cam" transform="translate(637.70,631.00) scale(1.000,1.000)"/>
<use href="#i_box" transform="translate(663.20,633.00) scale(1.000,1.000)"/>
<use href="#i_lap" transform="translate(568.20,650.00) scale(1.000,1.000)"/>
<use href="#i_ph" transform="translate(589.20,653.00) scale(1.000,1.000)"/>
<use href="#i_prn" transform="translate(609.20,648.00) scale(1.000,1.000)"/>
<use href="#i_bkt" transform="translate(639.70,649.00) scale(1.000,1.000)"/>
<use href="#i_pd" transform="translate(662.70,650.00) scale(1.000,1.000)"/>
<text class="sch" x="640.9" y="546.5">中型学校</text>
<path d="M753.4,553.6 V560.7 M753.4,580 V587.4" fill="none" stroke="#f1d47e" stroke-width="1"/>
<path d="M765.9,570.7 H778.4" fill="none" stroke="#f1d47e" stroke-width="1"/>
<use href="#rtS" transform="translate(745.55,543.60) scale(1.000,1.000)"/>
<use href="#sw" transform="translate(740.90,560.70) scale(1.136,1.135)"/>
<use href="#dev" transform="translate(778.40,565.70) scale(0.964,0.964)"/>
<path d="M728.7,587.4 H778.1" fill="none" stroke="#f1d47e" stroke-width="1"/>
<path d="M716.6,608.8 H741.2 M765.8,608.8 H790.4" fill="none" stroke="#f1d47e" stroke-width="1"/>
<use href="#sw" transform="translate(716.20,589.30) scale(1.136,1.094)"/>
<use href="#sw" transform="translate(765.60,589.30) scale(1.136,1.094)"/>
<path d="M745.9,598 H760.9" stroke="#333" stroke-width="1.3" stroke-dasharray="1.8,1.2"/>
<use href="#sw" transform="translate(705.60,610.00) scale(1.000,1.000)"/>
<use href="#sw" transform="translate(730.20,610.00) scale(1.000,1.000)"/>
<use href="#sw" transform="translate(754.80,610.00) scale(1.000,1.000)"/>
<use href="#sw" transform="translate(779.40,610.00) scale(1.000,1.000)"/>
<use href="#i_ap" transform="translate(709.10,631.00) scale(1.000,1.000)"/>
<use href="#i_wave" transform="translate(709.10,642.00) scale(1.000,1.000)"/>
<use href="#i_mon" transform="translate(739.10,631.00) scale(1.000,1.000)"/>
<use href="#i_cam" transform="translate(767.10,631.00) scale(1.000,1.000)"/>
<use href="#i_box" transform="translate(792.60,633.00) scale(1.000,1.000)"/>
<use href="#i_lap" transform="translate(697.60,650.00) scale(1.000,1.000)"/>
<use href="#i_ph" transform="translate(718.60,653.00) scale(1.000,1.000)"/>
<use href="#i_prn" transform="translate(738.60,648.00) scale(1.000,1.000)"/>
<use href="#i_bkt" transform="translate(769.10,649.00) scale(1.000,1.000)"/>
<use href="#i_pd" transform="translate(792.10,650.00) scale(1.000,1.000)"/>
<text class="sch" x="766.6" y="546.5">小型学校</text>
<path d="M540.9,570.7 H587.0 M673.7,570.7 H720.0" stroke="#222" stroke-width="1.6" stroke-dasharray="11,6.5"/>
<rect x="818.3" y="628.6" width="390.7" height="34.1" rx="3.5" fill="none" stroke="#d4a6a6" stroke-width="1"/>
<path d="M882.7,557 V561 M882.7,583 V587.4" fill="none" stroke="#f1d47e" stroke-width="1"/>
<path d="M894.7,572.7 H902.7" fill="none" stroke="#f1d47e" stroke-width="1"/>
<use href="#fwS" transform="translate(876.20,539.70) scale(1.000,1.000)"/>
<use href="#chassis" transform="translate(870.30,561.30) scale(1.000,1.000)"/>
<use href="#dev" transform="translate(902.20,567.80) scale(1.000,1.000)"/>
<path d="M858.0,587.4 H907.4" fill="none" stroke="#f1d47e" stroke-width="1"/>
<path d="M845.9,608.8 H870.5 M895.1,608.8 H919.7" fill="none" stroke="#f1d47e" stroke-width="1"/>
<use href="#sw" transform="translate(845.50,589.30) scale(1.136,1.094)"/>
<use href="#sw" transform="translate(894.90,589.30) scale(1.136,1.094)"/>
<path d="M875.2,598 H890.2" stroke="#333" stroke-width="1.3" stroke-dasharray="1.8,1.2"/>
<use href="#sw" transform="translate(834.90,610.00) scale(1.000,1.000)"/>
<use href="#sw" transform="translate(859.50,610.00) scale(1.000,1.000)"/>
<use href="#sw" transform="translate(884.10,610.00) scale(1.000,1.000)"/>
<use href="#sw" transform="translate(908.70,610.00) scale(1.000,1.000)"/>
<use href="#i_ap" transform="translate(838.40,631.00) scale(1.000,1.000)"/>
<use href="#i_wave" transform="translate(838.40,642.00) scale(1.000,1.000)"/>
<use href="#i_mon" transform="translate(868.40,631.00) scale(1.000,1.000)"/>
<use href="#i_cam" transform="translate(896.40,631.00) scale(1.000,1.000)"/>
<use href="#i_box" transform="translate(921.90,633.00) scale(1.000,1.000)"/>
<use href="#i_lap" transform="translate(826.90,650.00) scale(1.000,1.000)"/>
<use href="#i_ph" transform="translate(847.90,653.00) scale(1.000,1.000)"/>
<use href="#i_prn" transform="translate(867.90,648.00) scale(1.000,1.000)"/>
<use href="#i_bkt" transform="translate(898.40,649.00) scale(1.000,1.000)"/>
<use href="#i_pd" transform="translate(921.40,650.00) scale(1.000,1.000)"/>
<text class="sch" x="899.6" y="546.5">大型学校</text>
<path d="M1017.0,555 V560 M1017.0,580 V587.4" fill="none" stroke="#f1d47e" stroke-width="1"/>
<path d="M1030.0,570.7 H1040.0" fill="none" stroke="#f1d47e" stroke-width="1"/>
<use href="#rtM" transform="translate(1009.35,541.40) scale(1.000,1.000)"/>
<use href="#sw" transform="translate(1003.80,560.00) scale(1.200,1.218)"/>
<use href="#dev" transform="translate(1039.60,565.70) scale(0.957,0.957)"/>
<path d="M992.3,587.4 H1041.7" fill="none" stroke="#f1d47e" stroke-width="1"/>
<path d="M980.2,608.8 H1004.8 M1029.4,608.8 H1054.0" fill="none" stroke="#f1d47e" stroke-width="1"/>
<use href="#sw" transform="translate(979.80,589.30) scale(1.136,1.094)"/>
<use href="#sw" transform="translate(1029.20,589.30) scale(1.136,1.094)"/>
<path d="M1009.5,598 H1024.5" stroke="#333" stroke-width="1.3" stroke-dasharray="1.8,1.2"/>
<use href="#sw" transform="translate(969.20,610.00) scale(1.000,1.000)"/>
<use href="#sw" transform="translate(993.80,610.00) scale(1.000,1.000)"/>
<use href="#sw" transform="translate(1018.40,610.00) scale(1.000,1.000)"/>
<use href="#sw" transform="translate(1043.00,610.00) scale(1.000,1.000)"/>
<use href="#i_ap" transform="translate(972.70,631.00) scale(1.000,1.000)"/>
<use href="#i_wave" transform="translate(972.70,642.00) scale(1.000,1.000)"/>
<use href="#i_mon" transform="translate(1002.70,631.00) scale(1.000,1.000)"/>
<use href="#i_cam" transform="translate(1030.70,631.00) scale(1.000,1.000)"/>
<use href="#i_box" transform="translate(1056.20,633.00) scale(1.000,1.000)"/>
<use href="#i_lap" transform="translate(961.20,650.00) scale(1.000,1.000)"/>
<use href="#i_ph" transform="translate(982.20,653.00) scale(1.000,1.000)"/>
<use href="#i_prn" transform="translate(1002.20,648.00) scale(1.000,1.000)"/>
<use href="#i_bkt" transform="translate(1032.70,649.00) scale(1.000,1.000)"/>
<use href="#i_pd" transform="translate(1055.70,650.00) scale(1.000,1.000)"/>
<text class="sch" x="1033.9" y="546.5">中型学校</text>
<path d="M1146.4,553.6 V560.7 M1146.4,580 V587.4" fill="none" stroke="#f1d47e" stroke-width="1"/>
<path d="M1158.9,570.7 H1171.4" fill="none" stroke="#f1d47e" stroke-width="1"/>
<use href="#rtS" transform="translate(1138.55,543.60) scale(1.000,1.000)"/>
<use href="#sw" transform="translate(1133.90,560.70) scale(1.136,1.135)"/>
<use href="#dev" transform="translate(1171.40,565.70) scale(0.964,0.964)"/>
<path d="M1121.7,587.4 H1171.1" fill="none" stroke="#f1d47e" stroke-width="1"/>
<path d="M1109.6,608.8 H1134.2 M1158.8,608.8 H1183.4" fill="none" stroke="#f1d47e" stroke-width="1"/>
<use href="#sw" transform="translate(1109.20,589.30) scale(1.136,1.094)"/>
<use href="#sw" transform="translate(1158.60,589.30) scale(1.136,1.094)"/>
<path d="M1138.9,598 H1153.9" stroke="#333" stroke-width="1.3" stroke-dasharray="1.8,1.2"/>
<use href="#sw" transform="translate(1098.60,610.00) scale(1.000,1.000)"/>
<use href="#sw" transform="translate(1123.20,610.00) scale(1.000,1.000)"/>
<use href="#sw" transform="translate(1147.80,610.00) scale(1.000,1.000)"/>
<use href="#sw" transform="translate(1172.40,610.00) scale(1.000,1.000)"/>
<use href="#i_ap" transform="translate(1102.10,631.00) scale(1.000,1.000)"/>
<use href="#i_wave" transform="translate(1102.10,642.00) scale(1.000,1.000)"/>
<use href="#i_mon" transform="translate(1132.10,631.00) scale(1.000,1.000)"/>
<use href="#i_cam" transform="translate(1160.10,631.00) scale(1.000,1.000)"/>
<use href="#i_box" transform="translate(1185.60,633.00) scale(1.000,1.000)"/>
<use href="#i_lap" transform="translate(1090.60,650.00) scale(1.000,1.000)"/>
<use href="#i_ph" transform="translate(1111.60,653.00) scale(1.000,1.000)"/>
<use href="#i_prn" transform="translate(1131.60,648.00) scale(1.000,1.000)"/>
<use href="#i_bkt" transform="translate(1162.10,649.00) scale(1.000,1.000)"/>
<use href="#i_pd" transform="translate(1185.10,650.00) scale(1.000,1.000)"/>
<text class="sch" x="1159.6" y="546.5">小型学校</text>
<path d="M933.9,570.7 H980.0 M1066.7,570.7 H1113.0" stroke="#222" stroke-width="1.6" stroke-dasharray="11,6.5"/>
<text class="ct" x="984" y="144" text-anchor="middle">教育厅资源中心</text>
<text class="ct" x="400" y="464" text-anchor="middle">移动城域网</text>
<text class="ct" x="624" y="463" text-anchor="middle">电信城域网</text>
<text class="ct" x="847" y="463" text-anchor="middle">联通城域网</text>
<text class="lt" x="550" y="109" text-anchor="middle">移动专线</text>
<text class="lt" x="646" y="109" text-anchor="middle">电信专线</text>
<text class="lt" x="739" y="111" text-anchor="middle">联通专线</text>
<text class="lt" x="787" y="159" text-anchor="middle">教育厅专线</text>
</svg>
</body></html>
